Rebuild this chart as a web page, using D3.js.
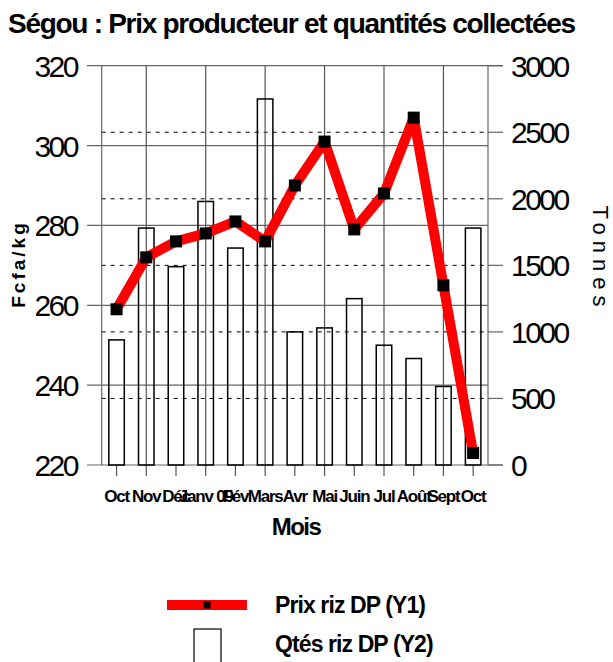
<!DOCTYPE html>
<html><head><meta charset="utf-8">
<script src="https://cdn.jsdelivr.net/npm/d3@7"></script>
<style>
body{margin:0;background:#fff;}
svg{display:block;}
text{font-family:"Liberation Sans",Arial,sans-serif;}
</style></head>
<body>
<svg id="c" width="613" height="662"></svg>
<script>
const months = ["Oct","Nov","Déc","Janv 09","Fév","Mars","Avr","Mai","Juin","Jul","Août","Sept","Oct"];
const prix = [259, 272, 276, 278, 281, 276, 290, 301, 279, 288, 307, 265, 223];
const qtes = [940, 1780, 1490, 1980, 1630, 2750, 1000, 1030, 1250, 900, 800, 590, 1780];
const yLeftTicks = [220, 240, 260, 280, 300, 320];
const yRightTicks = [0, 500, 1000, 1500, 2000, 2500, 3000];
const title = "Ségou : Prix producteur et quantités collectées";
const legendLabels = ["Prix riz DP (Y1)", "Qtés riz DP (Y2)"];

const svg = d3.select("#c");
const L = 101.7, R = 488, T = 65.7, B = 465;

const x = d3.scaleBand().domain(d3.range(months.length)).range([L, R]).paddingInner(0).paddingOuter(0);
const y1 = d3.scaleLinear().domain([220, 320]).range([B, T]);
const y2 = d3.scaleLinear().domain([0, 3000]).range([B, T]);
const cx = i => x(i) + x.bandwidth() / 2;

// title (condensed by letter-spacing to fit the reference width)
const tt = svg.append("text").attr("x", 8).attr("y", 33).attr("font-size", 28).attr("font-weight", "bold").text(title);
const nat = tt.node().getComputedTextLength();
tt.attr("letter-spacing", ((568 - nat) / (title.length - 1)).toFixed(2) + "px");

// horizontal solid grid (left ticks)
svg.append("g").selectAll("line").data(yLeftTicks).join("line")
  .attr("x1", 87).attr("x2", d => (d === 220 || d === 320) ? 503 : R)
  .attr("y1", d => y1(d)).attr("y2", d => y1(d))
  .attr("stroke", "#666").attr("stroke-width", 1.2);

// dashed grid (right ticks)
svg.append("g").selectAll("line").data(yRightTicks.filter(d => d > 0 && d < 3000)).join("line")
  .attr("x1", L).attr("x2", R).attr("y1", d => y2(d)).attr("y2", d => y2(d))
  .attr("stroke", "#000").attr("stroke-width", 1).attr("stroke-dasharray", "4,5");
svg.append("g").selectAll("line").data(yRightTicks).join("line")
  .attr("x1", R).attr("x2", 503).attr("y1", d => y2(d)).attr("y2", d => y2(d))
  .attr("stroke", "#666").attr("stroke-width", 1.2);

// vertical grid lines
svg.append("g").selectAll("line").data(d3.range(1, months.length, 2)).join("line")
  .attr("x1", d => cx(d)).attr("x2", d => cx(d)).attr("y1", T).attr("y2", B)
  .attr("stroke", "#555").attr("stroke-width", 1.2);

// axes lines
svg.append("line").attr("x1", L).attr("x2", L).attr("y1", T).attr("y2", B).attr("stroke", "#666").attr("stroke-width", 1.2);
svg.append("line").attr("x1", R).attr("x2", R).attr("y1", T).attr("y2", B).attr("stroke", "#666").attr("stroke-width", 1.2);

// x ticks
svg.append("g").selectAll("line").data(d3.range(months.length)).join("line")
  .attr("x1", d => cx(d)).attr("x2", d => cx(d)).attr("y1", B).attr("y2", 476)
  .attr("stroke", "#555").attr("stroke-width", 1.2);

// bars
const bw = 15.5;
svg.append("g").selectAll("rect").data(qtes).join("rect")
  .attr("x", (d, i) => cx(i) - bw / 2).attr("width", bw)
  .attr("y", d => y2(d)).attr("height", d => B - y2(d))
  .attr("fill", "none").attr("stroke", "#000").attr("stroke-width", 1.5);

// line
svg.append("path").datum(prix)
  .attr("d", d3.line().x((d, i) => cx(i)).y(d => y1(d)))
  .attr("fill", "none").attr("stroke", "#ff0000").attr("stroke-width", 10).attr("stroke-linejoin", "round");
svg.append("g").selectAll("rect").data(prix).join("rect")
  .attr("x", (d, i) => cx(i) - 6).attr("y", d => y1(d) - 6).attr("width", 12).attr("height", 12).attr("fill", "#000");

// tick labels
svg.append("g").selectAll("text").data(yLeftTicks).join("text")
  .attr("x", 77).attr("y", d => y1(d) + 11).attr("text-anchor", "end")
  .attr("font-size", 30).attr("letter-spacing", "-2.5px").text(d => d);
svg.append("g").selectAll("text").data(yRightTicks).join("text")
  .attr("x", 511).attr("y", d => y2(d) + 11).attr("text-anchor", "start")
  .attr("font-size", 30).attr("letter-spacing", "-2.5px").text(d => d);
svg.append("g").selectAll("text").data(months).join("text")
  .attr("x", (d, i) => cx(i)).attr("y", 502).attr("text-anchor", "middle")
  .attr("font-size", 17).attr("font-weight", "bold").attr("letter-spacing", "-1.2px").text(d => d);

// axis titles
svg.append("text").attr("x", 296).attr("y", 535).attr("text-anchor", "middle")
  .attr("font-size", 24).attr("font-weight", "bold").attr("letter-spacing", "-1.5px").text("Mois");
svg.append("text").attr("transform", "translate(25,264) rotate(-90)").attr("text-anchor", "middle")
  .attr("font-size", 19).attr("font-weight", "bold").attr("letter-spacing", "3px").text("Fcfa/kg");
svg.append("text").attr("transform", "translate(593,259) rotate(90)").attr("text-anchor", "middle")
  .attr("font-size", 22).attr("letter-spacing", "6px").text("Tonnes");

// legend
svg.append("line").attr("x1", 167).attr("x2", 247).attr("y1", 605).attr("y2", 605)
  .attr("stroke", "#ff0000").attr("stroke-width", 10);
svg.append("rect").attr("x", 203.5).attr("y", 601.5).attr("width", 7).attr("height", 7).attr("fill", "#000");
svg.append("rect").attr("x", 194).attr("y", 629).attr("width", 27).attr("height", 45)
  .attr("fill", "none").attr("stroke", "#000").attr("stroke-width", 1.2);
svg.append("g").selectAll("text").data(legendLabels).join("text")
  .attr("x", 275).attr("y", (d, i) => 613 + i * 39)
  .attr("font-size", 23).attr("font-weight", "bold").attr("letter-spacing", "-0.9px").text(d => d);
</script>
</body></html>
